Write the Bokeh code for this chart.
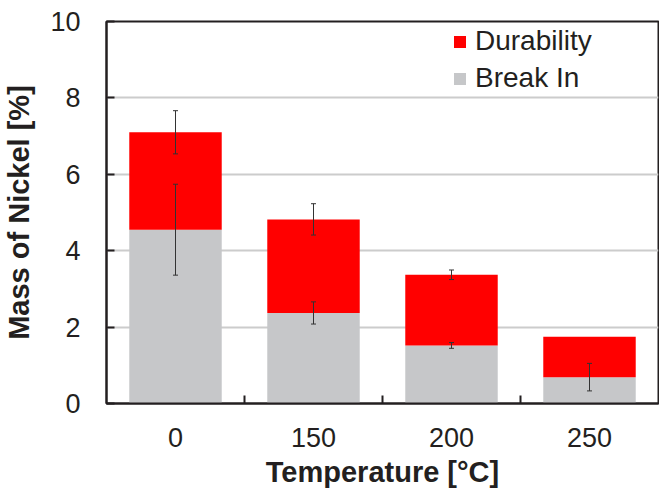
from bokeh.plotting import figure
from bokeh.models import (ColumnDataSource, Whisker, TeeHead, FixedTicker, Range1d,
                          Legend, LegendItem)
from bokeh.embed import file_html
from bokeh.resources import INLINE

# ---- data ----
temperatures = ["0", "150", "200", "250"]
break_in = [4.55, 2.37, 1.52, 0.69]
durability = [2.55, 2.45, 1.85, 1.06]
break_in_err = [1.19, 0.29, 0.075, 0.36]
durability_err = [0.565, 0.41, 0.125, 0.0]
y_ticks = [0, 2, 4, 6, 8, 10]

FONT = "Liberation Sans"
TXT = "#231f20"

xs = [i + 0.5 for i in range(len(temperatures))]
totals = [b + d for b, d in zip(break_in, durability)]

p = figure(width=659, height=491, output_backend="svg", toolbar_location=None,
           x_range=Range1d(0, len(temperatures)), y_range=Range1d(0, 10),
           min_border_left=105, min_border_right=1, min_border_top=21, min_border_bottom=88)
p.background_fill_color = "white"
p.border_fill_color = "white"
p.outline_line_color = "#231f20"
p.outline_line_width = 2

src = ColumnDataSource(dict(x=xs, bi=break_in, tot=totals))
r_bi = p.vbar(x="x", bottom=0, top="bi", width=0.67, source=src,
              fill_color="#c6c7c9", line_color=None)
r_du = p.vbar(x="x", bottom="bi", top="tot", width=0.67, source=src,
              fill_color="#ff0000", line_color=None)

# error bars
ex, lo, hi = [], [], []
for x, b, e in zip(xs, break_in, break_in_err):
    if e > 0:
        ex.append(x); lo.append(b - e); hi.append(b + e)
for x, t, e in zip(xs, totals, durability_err):
    if e > 0:
        ex.append(x); lo.append(t - e); hi.append(t + e)
esrc = ColumnDataSource(dict(x=ex, lo=lo, hi=hi))
w = Whisker(base="x", lower="lo", upper="hi", source=esrc, level="annotation",
            line_color="#333333", line_width=1,
            upper_head=TeeHead(size=5, line_color="#333333", line_width=1),
            lower_head=TeeHead(size=5, line_color="#333333", line_width=1))
p.add_layout(w)

# grid
p.xgrid.grid_line_color = None
p.ygrid.grid_line_color = "#cccccc"
p.ygrid.grid_line_width = 2
p.ygrid.ticker = FixedTicker(ticks=y_ticks)

# y axis
p.yaxis.ticker = FixedTicker(ticks=y_ticks)
p.yaxis.axis_line_color = "#231f20"
p.yaxis.axis_line_width = 2
p.yaxis.major_tick_in = 8
p.yaxis.major_tick_out = 0
p.yaxis.major_tick_line_width = 2
p.yaxis.major_tick_line_color = "#231f20"
p.yaxis.minor_tick_line_color = None
p.yaxis.major_label_text_font = FONT
p.yaxis.major_label_text_font_size = "27px"
p.yaxis.major_label_text_color = TXT
p.yaxis.major_label_standoff = 26
p.yaxis.axis_label = "Mass of Nickel [%]"
p.yaxis.axis_label_text_font = FONT
p.yaxis.axis_label_text_font_style = "bold"
p.yaxis.axis_label_text_font_size = "29px"
p.yaxis.axis_label_text_color = TXT
p.yaxis.axis_label_standoff = 12

# x axis
p.xaxis.ticker = FixedTicker(ticks=xs, minor_ticks=list(range(1, len(temperatures))))
p.xaxis.major_label_overrides = {x: t for x, t in zip(xs, temperatures)}
p.xaxis.axis_line_color = "#231f20"
p.xaxis.axis_line_width = 2
p.xaxis.major_tick_line_color = None
p.xaxis.minor_tick_in = 8
p.xaxis.minor_tick_out = 0
p.xaxis.minor_tick_line_width = 2
p.xaxis.minor_tick_line_color = "#231f20"
p.xaxis.major_label_text_font = FONT
p.xaxis.major_label_text_font_size = "27px"
p.xaxis.major_label_text_color = TXT
p.xaxis.major_label_standoff = 18
p.xaxis.axis_label = "Temperature [°C]"
p.xaxis.axis_label_text_font = FONT
p.xaxis.axis_label_text_font_style = "bold"
p.xaxis.axis_label_text_font_size = "29px"
p.xaxis.axis_label_text_color = TXT
p.xaxis.axis_label_standoff = 6

legend = Legend(items=[LegendItem(label="Durability", renderers=[r_du]),
                       LegendItem(label="Break In", renderers=[r_bi])],
                location=(346, 309), orientation="vertical",
                label_text_font=FONT, label_text_font_size="28px",
                label_text_color=TXT, glyph_width=15, glyph_height=15,
                label_standoff=8, spacing=5, padding=0, margin=0,
                border_line_color=None, background_fill_alpha=0)
p.add_layout(legend, "center")

open("out.html", "w").write(file_html(p, INLINE))
